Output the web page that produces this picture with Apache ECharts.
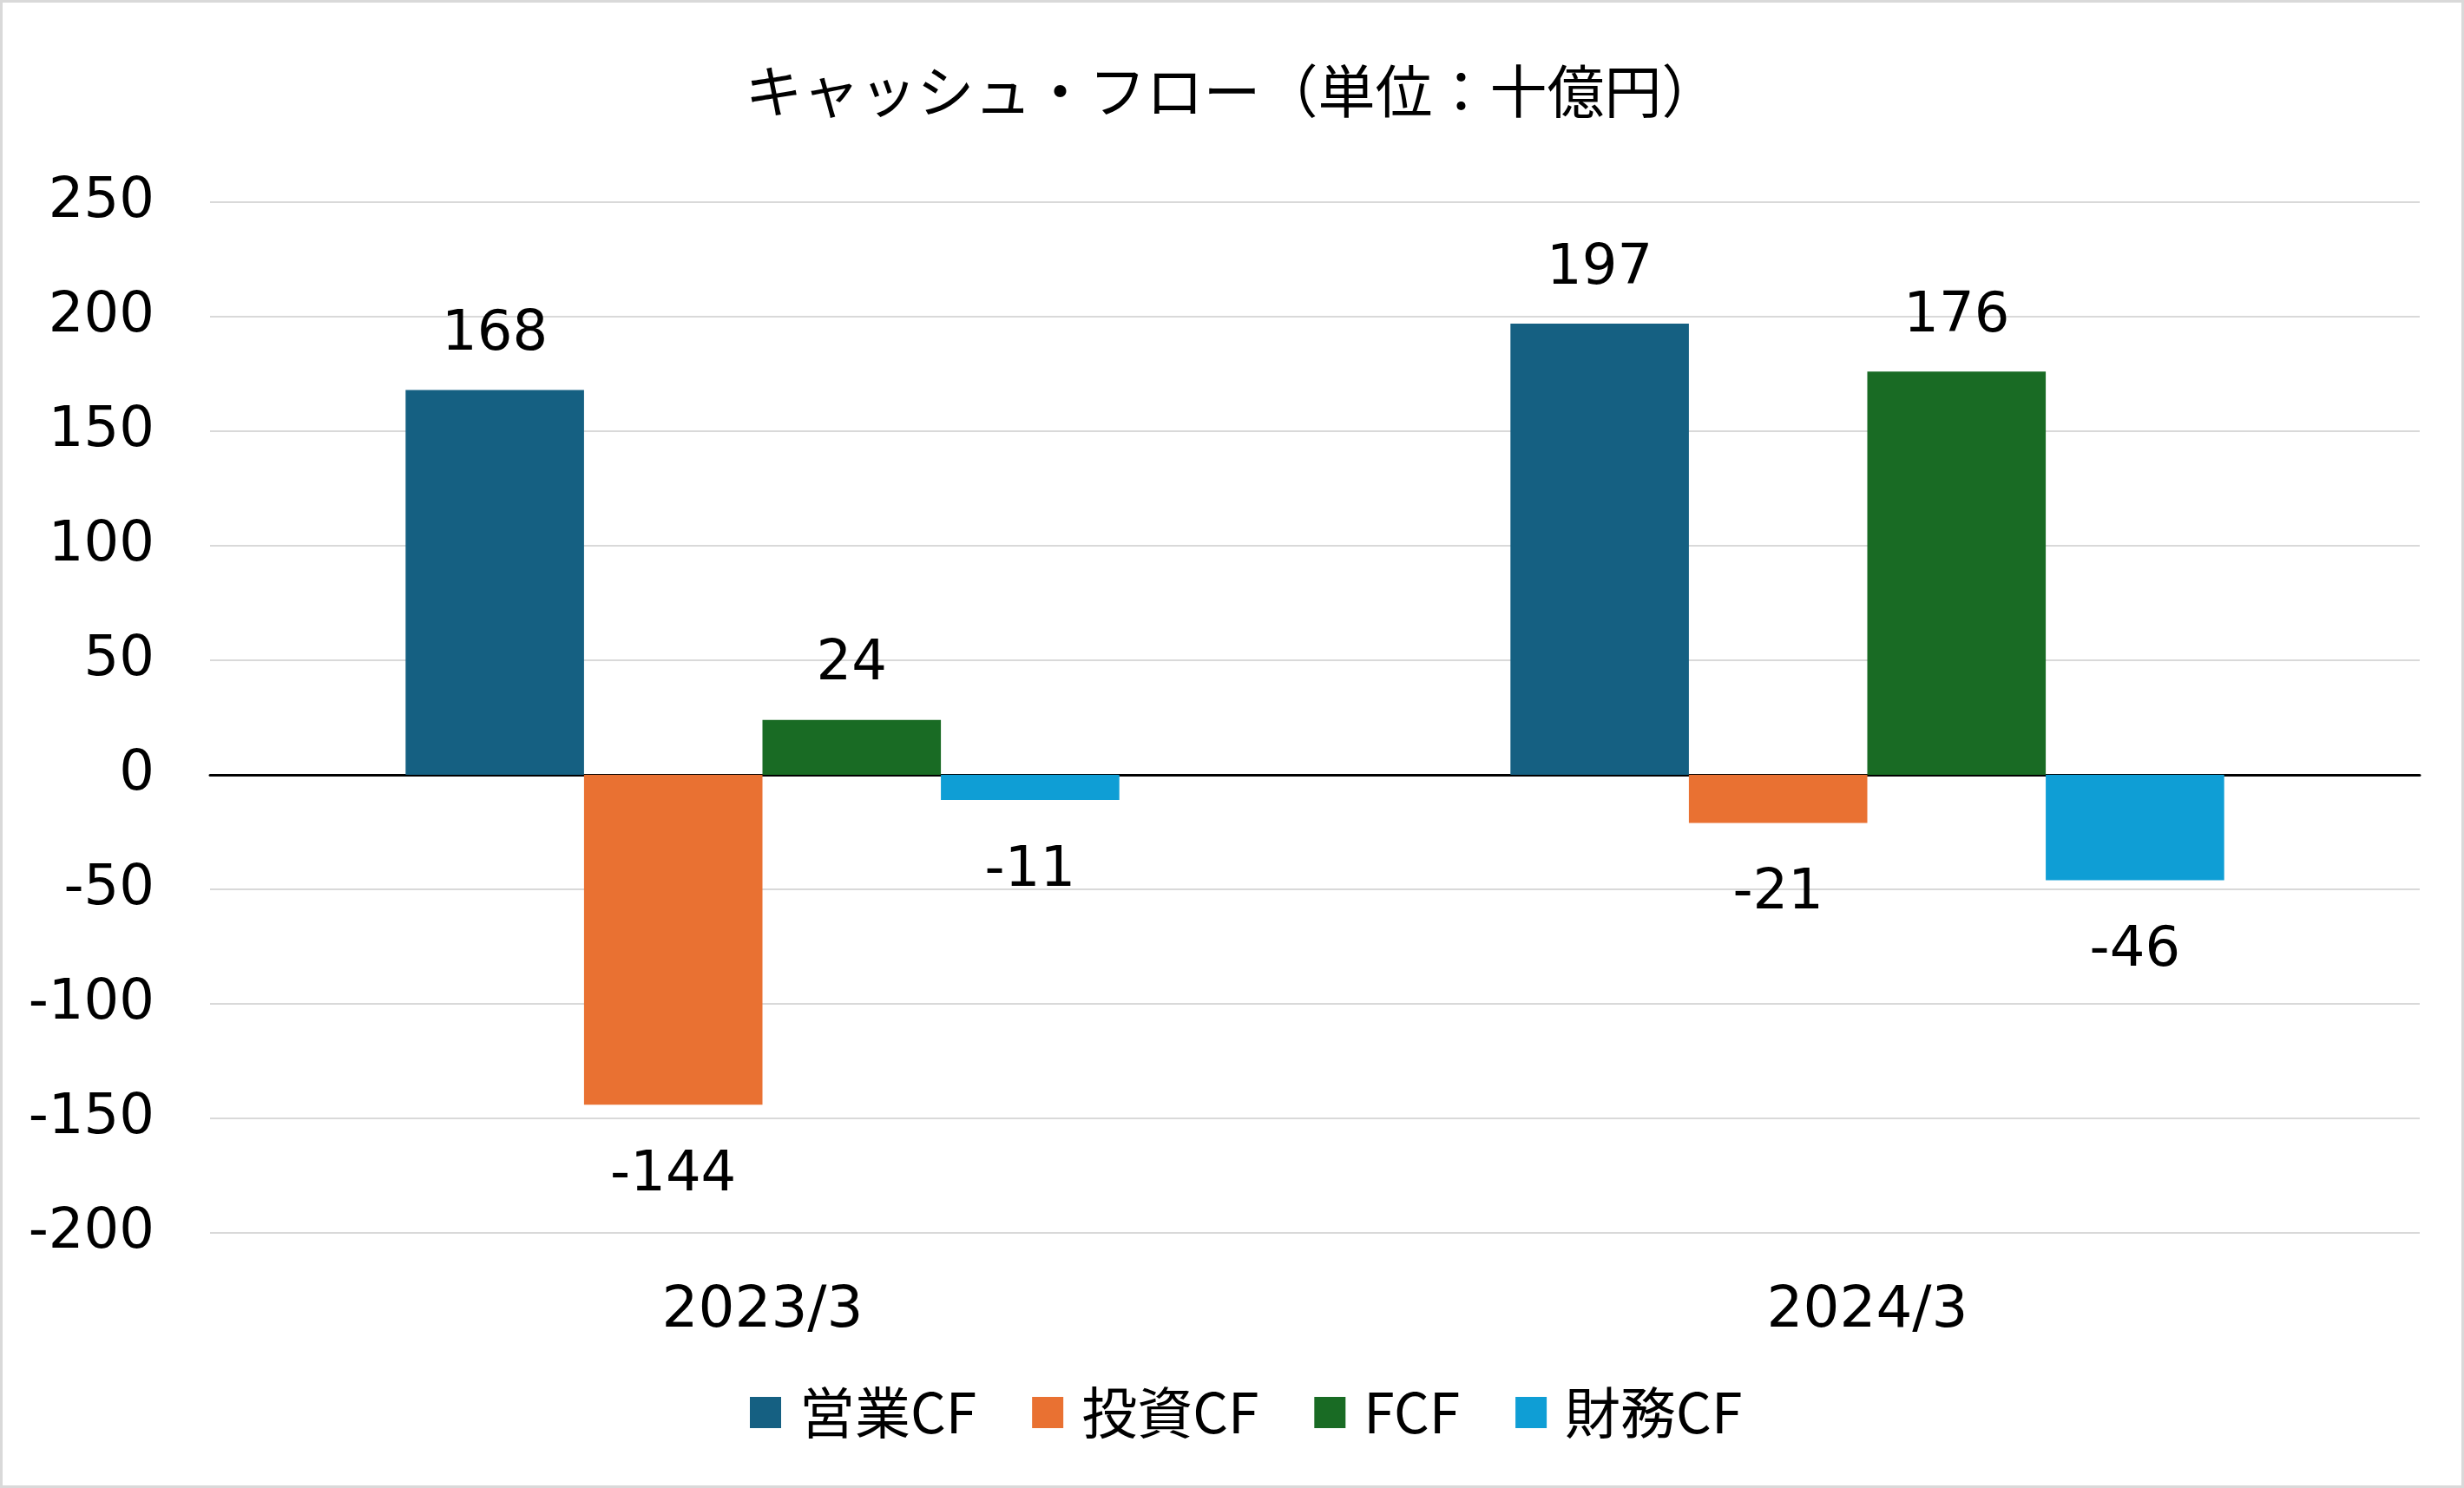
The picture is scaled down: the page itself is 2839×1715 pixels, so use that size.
<!DOCTYPE html>
<html>
<head>
<meta charset="utf-8">
<script src="https://cdn.jsdelivr.net/npm/echarts@6/dist/echarts.min.js"></script>
<style>
html,body{margin:0;padding:0;background:#fff;}
#chart{width:2839px;height:1715px;position:relative;}
#frame{position:absolute;left:0;top:0;width:2839px;height:1715px;box-sizing:border-box;border:3px solid #d9d9d9;pointer-events:none;}
</style>
</head>
<body>
<div id="chart"></div>
<div id="frame"></div>
<script>
const categories = ['2023/3', '2024/3'];
const seriesNames = ['営業CF', '投資CF', 'FCF', '財務CF'];
const opCF = [168, 197];
const invCF = [-144, -21];
const fcf = [24, 176];
const finCF = [-11, -46];
const yTicks = [-200, -150, -100, -50, 0, 50, 100, 150, 200, 250];
const colors = ['#156082', '#E97132', '#196B24', '#0F9ED5'];

const FONT = '"DejaVu Sans", Verdana, "Noto Sans CJK JP", sans-serif';
const JFONT = '"Noto Sans CJK JP", "DejaVu Sans", sans-serif';

function mkData(arr) {
  return arr.map(v => ({
    value: v,
    label: { position: v < 0 ? 'bottom' : 'top', distance: v < 0 ? 50 : 31 }
  }));
}

const allSeries = [opCF, invCF, fcf, finCF].map((arr, i) => ({
  name: seriesNames[i],
  type: 'bar',
  data: mkData(arr),
  barGap: '0%',
  barCategoryGap: '35.4%',
  itemStyle: { color: colors[i] },
  label: {
    show: true,
    color: '#000',
    fontSize: 64,
    fontFamily: FONT
  }
}));

const chart = echarts.init(document.getElementById('chart'), null, { renderer: 'canvas' });
chart.setOption({
  animation: false,
  backgroundColor: '#fff',
  color: colors,
  title: {
    text: 'キャッシュ・フロー（単位：十億円）',
    left: 'center',
    top: 72,
    padding: 0,
    textStyle: { fontFamily: JFONT, fontSize: 66, fontWeight: 'normal', color: '#000' }
  },
  legend: {
    data: seriesNames,
    bottom: 55,
    left: 864,
    padding: 0,
    itemWidth: 36,
    itemHeight: 36,
    itemGap: 64,
    icon: 'rect',
    textStyle: { fontFamily: JFONT, fontSize: 64, color: '#000', padding: [0, 0, 0, 16] }
  },
  grid: { left: 242, right: 51, top: 233, bottom: 294, containLabel: false },
  xAxis: {
    type: 'category',
    data: categories,
    axisLine: { onZero: true, lineStyle: { color: '#000', width: 3 } },
    axisTick: { show: false },
    axisLabel: {
      fontFamily: FONT, fontSize: 66, color: '#000', margin: 58,
    },
    position: 'bottom'
  },
  yAxis: {
    type: 'value',
    min: yTicks[0],
    max: yTicks[yTicks.length - 1],
    interval: 50,
    axisLine: { show: false },
    axisTick: { show: false },
    splitLine: { lineStyle: { color: '#d9d9d9', width: 2 } },
    axisLabel: { fontFamily: FONT, fontSize: 64, color: '#000', margin: 64, padding: [6, 0, 0, 0] }
  },
  series: allSeries
});
</script>
</body>
</html>
